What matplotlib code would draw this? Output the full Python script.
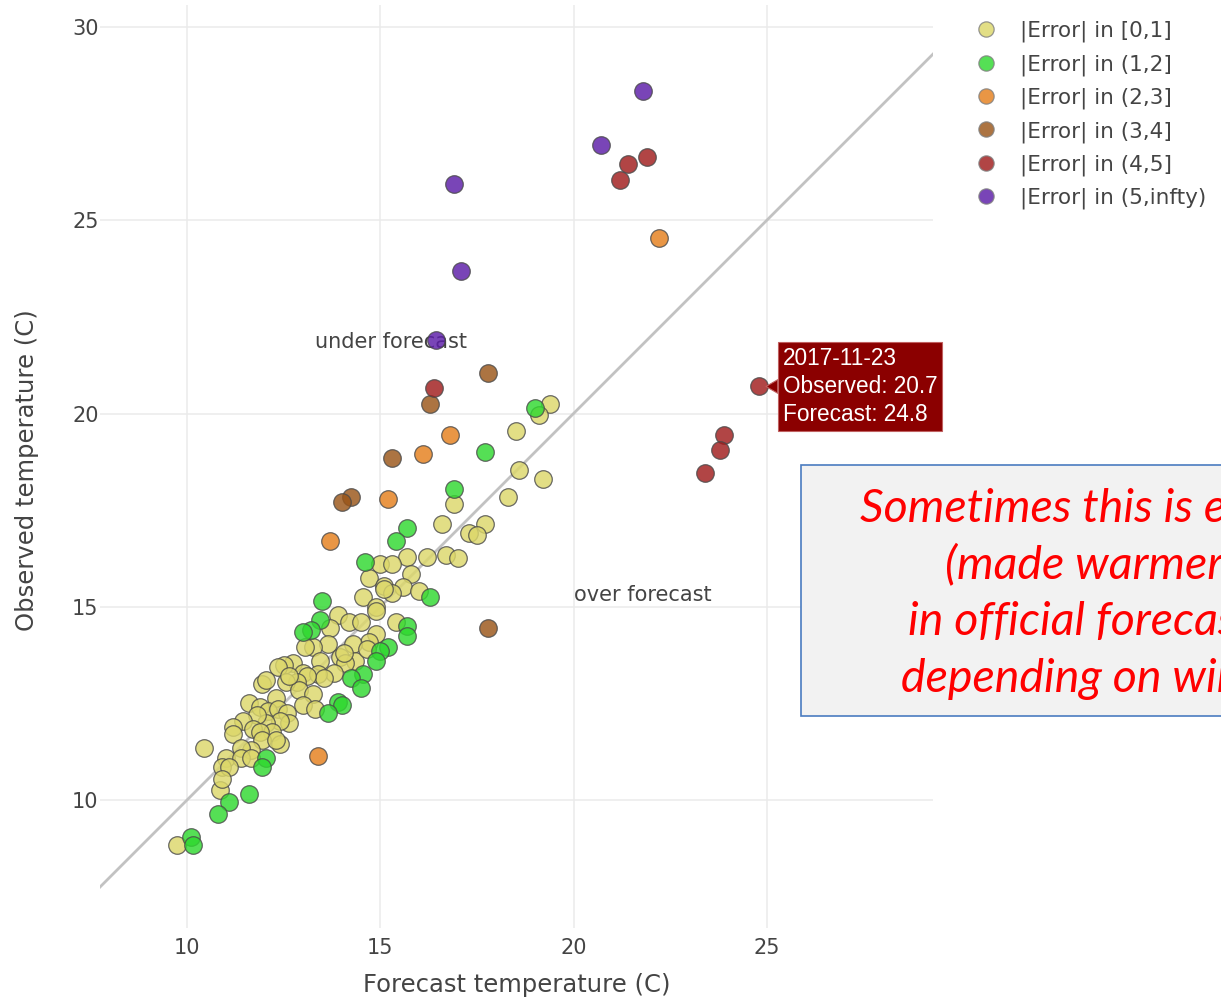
import matplotlib.pyplot as plt
from matplotlib.patches import Rectangle
from matplotlib.lines import Line2D

# forecast (x) / observed (y) temperatures, grouped by |error| class
fc_err01 = [19.4, 19.1, 18.5, 18.6, 19.2, 18.3, 16.9, 16.6, 17.7, 17.3, 17.5, 15.7, 16.2, 16.7, 17.0,
            15.0, 15.3, 15.8, 14.7, 15.1, 15.6, 16.0, 15.3, 14.55, 15.1, 14.9, 14.9, 15.4, 13.9, 14.2,
            14.5, 14.9, 13.7, 14.7, 14.3, 13.65, 13.25, 13.05, 13.95, 13.45, 14.35, 14.1, 12.75, 12.5,
            13.8, 13.0, 13.4, 12.35, 13.55, 13.1, 12.85, 12.55, 11.95, 12.3, 12.9, 13.25, 13.0, 13.3,
            11.6, 11.9, 12.1, 12.35, 12.6, 12.65, 12.4, 12.05, 11.8, 11.45, 11.2, 11.7, 11.2, 12.2,
            11.9, 12.4, 11.95, 11.65, 11.4, 10.45, 11.0, 11.4, 11.65, 10.9, 11.1, 10.85, 9.75, 10.9,
            12.3, 12.05, 12.65, 14.05, 14.65]
obs_err01 = [20.25, 19.95, 19.55, 18.55, 18.3, 17.85, 17.65, 17.15, 17.15, 16.9, 16.85, 16.3, 16.3, 16.35, 16.25,
             16.1, 16.1, 15.85, 15.75, 15.55, 15.5, 15.4, 15.35, 15.25, 15.45, 15.0, 14.9, 14.6, 14.8, 14.6,
             14.6, 14.3, 14.45, 14.1, 14.05, 14.05, 13.95, 13.95, 13.7, 13.6, 13.6, 13.55, 13.55, 13.5,
             13.3, 13.3, 13.25, 13.45, 13.15, 13.2, 13.05, 13.05, 13.0, 12.65, 12.85, 12.75, 12.45, 12.35,
             12.5, 12.4, 12.3, 12.35, 12.25, 12.0, 12.05, 12.0, 12.2, 12.05, 11.9, 11.85, 11.7, 11.75,
             11.75, 11.45, 11.55, 11.3, 11.35, 11.35, 11.1, 11.1, 11.1, 10.85, 10.85, 10.25, 8.85, 10.55,
             11.55, 13.1, 13.2, 13.8, 13.9]

fc_err12 = [19.0, 17.7, 16.9, 15.7, 15.4, 14.6, 13.5, 16.3, 13.45, 13.2, 13.0, 15.7, 15.7, 15.2, 15.0,
            14.9, 14.55, 14.25, 14.5, 13.9, 14.0, 13.65, 12.05, 11.95, 11.6, 11.1, 10.8, 10.1, 10.15]
obs_err12 = [20.15, 19.0, 18.05, 17.05, 16.7, 16.15, 15.15, 15.25, 14.65, 14.4, 14.35, 14.5, 14.25, 13.95, 13.85,
             13.6, 13.25, 13.15, 12.9, 12.55, 12.45, 12.25, 11.1, 10.85, 10.15, 9.95, 9.65, 9.05, 8.85]

fc_err23 = [22.2, 16.8, 16.1, 15.2, 13.7, 13.4]
obs_err23 = [24.55, 19.45, 18.95, 17.8, 16.7, 11.15]

fc_err34 = [17.8, 16.3, 15.3, 14.25, 14.0, 17.8]
obs_err34 = [21.05, 20.25, 18.85, 17.85, 17.7, 14.45]

fc_err45 = [21.9, 21.4, 21.2, 16.4, 24.8, 23.9, 23.8, 23.4]
obs_err45 = [26.65, 26.45, 26.05, 20.65, 20.7, 19.45, 19.05, 18.45]

fc_err5 = [21.8, 20.7, 16.9, 17.1, 16.45]
obs_err5 = [28.35, 26.95, 25.95, 23.7, 21.9]

labels = ['|Error| in [0,1]', '|Error| in (1,2]', '|Error| in (2,3]',
          '|Error| in (3,4]', '|Error| in (4,5]', '|Error| in (5,infty)']
colors = ['#dcd76a', '#2fd82f', '#e57f1c', '#9a5518', '#a01c1c', '#5c1ca8']
series = [(fc_err01, obs_err01), (fc_err12, obs_err12), (fc_err23, obs_err23),
          (fc_err34, obs_err34), (fc_err45, obs_err45), (fc_err5, obs_err5)]

hover_date = '2017-11-23'
hover_fc, hover_obs = 24.8, 20.7

W, H = 1221, 998
fig = plt.figure(figsize=(W / 100, H / 100), dpi=100)
ax = fig.add_axes([100 / W, 1 - 928 / H, 833 / W, 923 / H])

ax.set_xlim(7.75, 29.3)
ax.set_ylim(6.69, 30.57)
ax.set_xticks([10, 15, 20, 25])
ax.set_yticks([10, 15, 20, 25, 30])
ax.grid(color='#ebebeb', lw=1.1)
ax.set_axisbelow(True)
for s in ax.spines.values():
    s.set_visible(False)
ax.tick_params(length=0, labelsize=15, labelcolor='#444444', pad=1)
ax.tick_params(axis='x', pad=7)

# 1:1 line
ax.plot(ax.get_xlim(), ax.get_xlim(), color='#c2c2c2', lw=2, zorder=2)

handles = []
for (fc, obs), col, lab in zip(series, colors, labels):
    ax.scatter(fc, obs, s=160, color=col, alpha=0.82, edgecolors='#4a4a4a', linewidths=0.9, zorder=3)
    handles.append(Line2D([], [], ls='', marker='o', ms=11, mfc=col, mec='#808080',
                          mew=0.9, alpha=0.82, label=lab))

ax.text(15.28, 21.86, 'under forecast', ha='center', va='center', fontsize=15, color='#444444', zorder=2)
ax.text(21.8, 15.31, 'over forecast', ha='center', va='center', fontsize=15, color='#444444', zorder=2)

# hover label
ax.annotate(f'{hover_date}\nObserved: {hover_obs}\nForecast: {hover_fc}',
            xy=(hover_fc, hover_obs), xytext=(17, 0), textcoords='offset points',
            ha='left', va='center', fontsize=16.3, family='Liberation Sans', color='white',
            linespacing=1.3,
            bbox=dict(boxstyle='square,pad=0.2', fc='#8b0000', ec='#c06060', lw=0.8),
            arrowprops=dict(arrowstyle='wedge,tail_width=0.6,shrink_factor=0.5', fc='#8b0000',
                            ec='#c06060', lw=0.8, shrinkA=0, shrinkB=5),
            zorder=5, annotation_clip=False)

fig.text(517 / W, 1 - 985 / H, 'Forecast temperature (C)', ha='center', va='center',
         fontsize=17.5, color='#444444')
fig.text(27 / W, 1 - 470 / H, 'Observed temperature (C)', ha='center', va='center',
         rotation=90, fontsize=17.5, color='#444444')

fig.legend(handles=handles, loc='upper left', bbox_to_anchor=(977 / W, 1 - 21 / H),
           frameon=False, fontsize=15.5, labelspacing=0.55, handletextpad=1.2,
           handlelength=0.8, borderaxespad=0, borderpad=0, labelcolor='#444444')

# callout box on the right (runs off the figure edge)
fig.patches.append(Rectangle((801 / W, 1 - 716 / H), 500 / W, 251 / H, transform=fig.transFigure,
                             fc='#f2f2f2', ec='#4a7cc0', lw=1.2, zorder=0))
box_lines = ['Sometimes this is expected', '(made warmer/cooler)',
             'in official forecasts', 'depending on wind']
box_x = [860, 945, 908, 901]
box_base = [522, 578, 635, 692]
for txt, bx, by in zip(box_lines, box_x, box_base):
    fig.text(bx / W, 1 - by / H, txt, ha='left', va='baseline', fontsize=33.5,
             family='Lato', style='italic', color='#ff0000')

fig.savefig('out.png', dpi=100)
plt.close(fig)
